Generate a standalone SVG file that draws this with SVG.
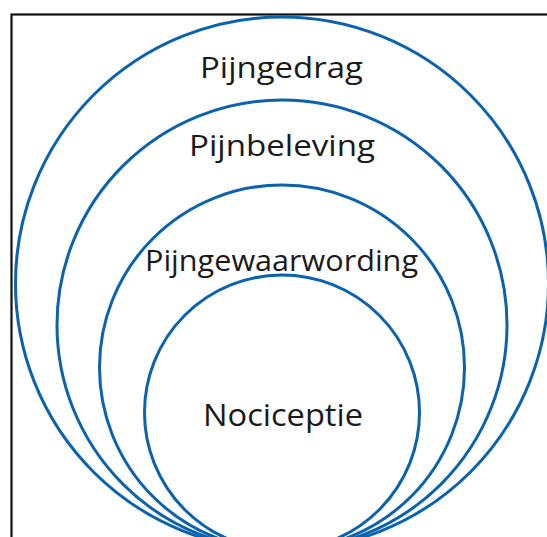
<svg xmlns="http://www.w3.org/2000/svg" width="547" height="537" viewBox="0 0 547 537">
  <style>
    .frame { fill: none; stroke: #111; stroke-width: 2.2; }
    .ring { fill: none; stroke: #0b62ad; stroke-width: 3; }
    .label { font-family: "Open Sans", "Noto Sans", "Liberation Sans", sans-serif; fill: #1a1a1a; text-anchor: middle; }
  </style>
  <rect width="547" height="537" fill="#ffffff"/>
  <!-- outer frame, right and bottom edges run off the canvas -->
  <rect class="frame" x="11.5" y="14.5" width="560" height="560"/>

  <!-- nested rings, all touching at the bottom point (282, 550) -->
  <g id="pijngedrag">
    <circle class="ring" cx="282" cy="283.5" r="266.5"/>
    <text class="label" x="281.5" y="78" font-size="30" textLength="163" lengthAdjust="spacingAndGlyphs">Pijngedrag</text>
  </g>
  <g id="pijnbeleving">
    <circle class="ring" cx="282" cy="325" r="225"/>
    <text class="label" x="282" y="156" font-size="30" textLength="186" lengthAdjust="spacingAndGlyphs">Pijnbeleving</text>
  </g>
  <g id="pijngewaarwording">
    <circle class="ring" cx="282" cy="367.5" r="182.5"/>
    <text class="label" x="281.5" y="271" font-size="29" textLength="273" lengthAdjust="spacingAndGlyphs">Pijngewaarwording</text>
  </g>
  <g id="nociceptie">
    <circle class="ring" cx="282" cy="412.5" r="137.5"/>
    <text class="label" x="283" y="426" font-size="31" textLength="160" lengthAdjust="spacingAndGlyphs">Nociceptie</text>
  </g>
</svg>
